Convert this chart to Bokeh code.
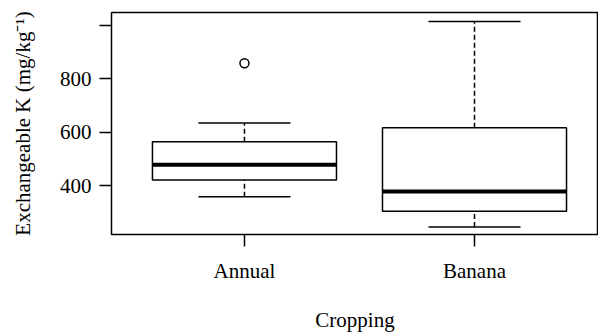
from bokeh.plotting import figure
from bokeh.models import FixedTicker, Range1d, CustomJSTickFormatter
from bokeh.embed import file_html
from bokeh.resources import INLINE

categories = ["Annual", "Banana"]
lower_whisker = [358, 245]
q1 = [421, 304]
median = [478, 378]
q3 = [564, 616]
upper_whisker = [634, 1013]
outlier_cat = ["Annual"]
outlier_val = [857]
y_ticks = [400, 600, 800, 1000]
y_tick_labels = ["400", "600", "800", ""]

FONT = "'Liberation Serif'"
TICK_FONT = "Times"
pos = {c: i + 1 for i, c in enumerate(categories)}
xs = [pos[c] for c in categories]
box_half = 0.4
cap_half = 0.2

p = figure(width=598, height=335, output_backend="svg", toolbar_location=None,
           x_range=Range1d(0.422, 2.539), y_range=Range1d(217, 1047),
           min_border_left=111, min_border_right=0, min_border_top=12, min_border_bottom=101)
p.grid.visible = False
p.background_fill_color = "white"
p.border_fill_color = "white"
p.outline_line_color = "black"
p.outline_line_width = 1.5

# whiskers (dashed)
p.segment(x0=xs, y0=q3, x1=xs, y1=upper_whisker, line_color="black", line_width=1.5, line_dash="5 3")
p.segment(x0=xs, y0=lower_whisker, x1=xs, y1=q1, line_color="black", line_width=1.5, line_dash="5 3")
# caps
p.segment(x0=[x - cap_half for x in xs], y0=upper_whisker, x1=[x + cap_half for x in xs], y1=upper_whisker,
          line_color="black", line_width=1.5)
p.segment(x0=[x - cap_half for x in xs], y0=lower_whisker, x1=[x + cap_half for x in xs], y1=lower_whisker,
          line_color="black", line_width=1.5)
# boxes
p.quad(left=[x - box_half for x in xs], right=[x + box_half for x in xs], bottom=q1, top=q3,
       fill_color="white", line_color="black", line_width=1.5)
# medians
p.segment(x0=[x - box_half for x in xs], y0=median, x1=[x + box_half for x in xs], y1=median,
          line_color="black", line_width=4)
# outliers
p.scatter(x=[pos[c] for c in outlier_cat], y=outlier_val, marker="circle", size=9,
          fill_color="white", line_color="black", line_width=1.5)

# axes
p.xaxis.ticker = FixedTicker(ticks=xs)
p.xaxis.formatter = CustomJSTickFormatter(args=dict(tk=xs, lb=categories),
                                          code="const i = tk.indexOf(tick); return i >= 0 ? lb[i] : '';")
p.yaxis.ticker = FixedTicker(ticks=y_ticks)
p.yaxis.formatter = CustomJSTickFormatter(args=dict(tk=y_ticks, lb=y_tick_labels),
                                          code="const i = tk.indexOf(tick); return i >= 0 ? lb[i] : '';")
for ax in (p.xaxis, p.yaxis):
    ax.axis_line_color = None
    ax.minor_tick_line_color = None
    ax.major_tick_line_color = "black"
    ax.major_tick_line_width = 1.5
    ax.major_tick_out = 12
    ax.major_tick_in = 0
    ax.major_label_text_font = TICK_FONT
    ax.major_label_text_font_size = "21px"
    ax.major_label_text_color = "black"
    ax.axis_label_text_font = FONT
    ax.axis_label_text_font_size = "21px"
    ax.axis_label_text_font_style = "normal"
    ax.axis_label_text_color = "black"
p.yaxis.major_label_orientation = "horizontal"
p.xaxis.major_label_standoff = 12
p.yaxis.major_label_standoff = 8
p.xaxis.axis_label = "Cropping"
p.yaxis.axis_label = "Exchangeable K (mg/kg\u207b\u00b9)"
p.xaxis.axis_label_standoff = 22
p.yaxis.axis_label_standoff = 22

open("out.html", "w").write(file_html(p, INLINE))
